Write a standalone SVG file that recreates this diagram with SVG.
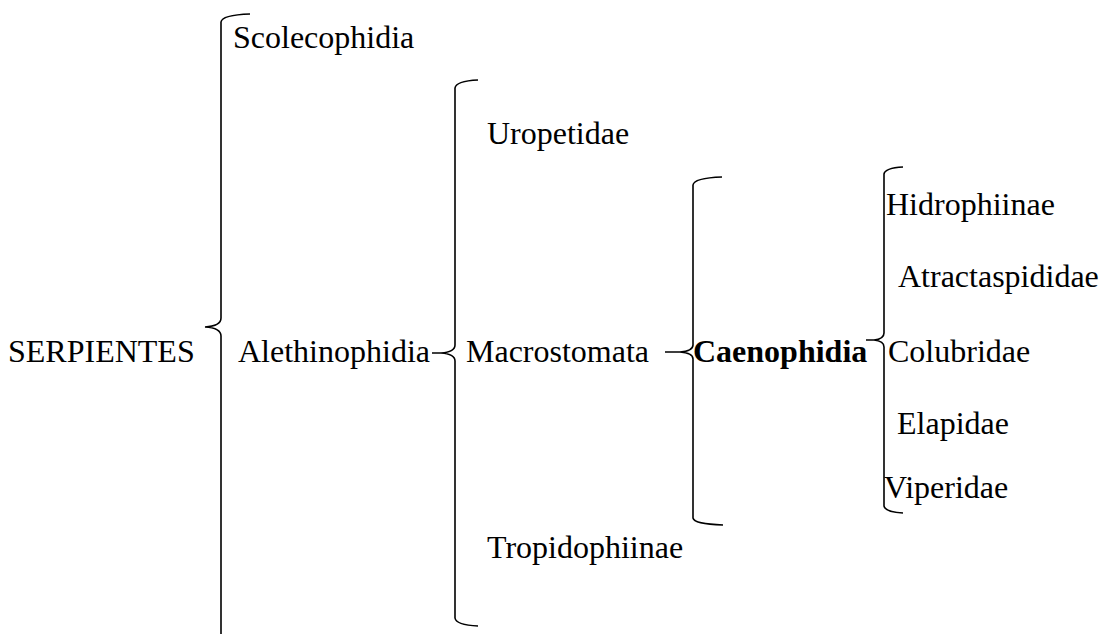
<svg xmlns="http://www.w3.org/2000/svg" width="1099" height="634" viewBox="0 0 1099 634">
<style>
text{font-family:"Liberation Serif","Times New Roman",serif;font-size:32px;fill:#000}
.b{font-weight:bold}
.br{fill:none;stroke:#000;stroke-width:1.6}
</style>
<rect width="1099" height="634" fill="#fff"/>
<g id="connectors">
<path class="br" d="M250,14 Q222,15 221,22 L221,318 Q221,326 205,327 Q221,328 221,336 L221,634"/>
<path class="br" d="M478,80 Q456,81 455,88 L455,345 Q455,352 441,353 L432,353 M441,353 Q455,354 455,361 L455,618 Q456,625 478,626"/>
<path class="br" d="M722,177 Q694,178 693,185 L693,345 Q693,351 680,352 L665,352 M680,352 Q693,353 693,359 L693,518 Q694,524 723,525"/>
<path class="br" d="M903,167 Q885,168 884,174 L884,333 Q884,339 874,340 L866,340 M874,340 Q884,341 884,347 L884,506 Q885,512 903,513"/>
</g>
<g id="n-serpientes"><text x="8" y="362">SERPIENTES</text></g>
<g id="n-scolecophidia"><text x="233" y="48">Scolecophidia</text></g>
<g id="n-alethinophidia"><text x="238" y="362">Alethinophidia</text></g>
<g id="n-uropetidae"><text x="487" y="144">Uropetidae</text></g>
<g id="n-macrostomata"><text x="466" y="362">Macrostomata</text></g>
<g id="n-tropidophiinae"><text x="487" y="558">Tropidophiinae</text></g>
<g id="n-caenophidia"><text class="b" x="693" y="362">Caenophidia</text></g>
<g id="n-hidrophiinae"><text x="886" y="215">Hidrophiinae</text></g>
<g id="n-atractaspididae"><text x="898" y="287">Atractaspididae</text></g>
<g id="n-colubridae"><text x="888" y="362">Colubridae</text></g>
<g id="n-elapidae"><text x="897" y="434">Elapidae</text></g>
<g id="n-viperidae"><text x="884" y="498">Viperidae</text></g>
</svg>
